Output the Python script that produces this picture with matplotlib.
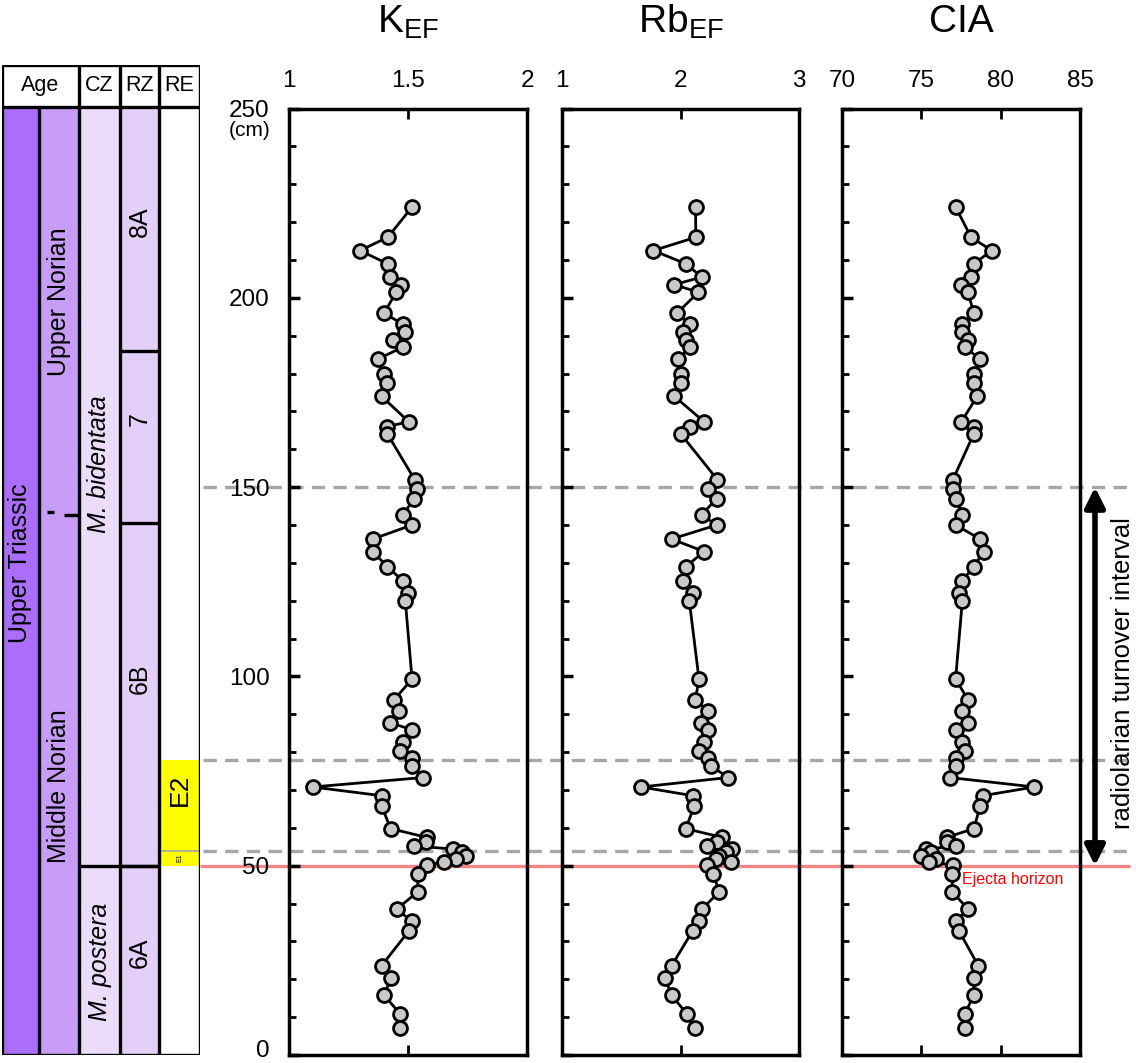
import numpy as np
import matplotlib.pyplot as plt
import matplotlib.transforms as mtransforms
from matplotlib.patches import Rectangle

plt.rcParams['font.family'] = ['Liberation Sans', 'DejaVu Sans']
plt.rcParams['mathtext.default'] = 'regular'

#%% Data (depth in cm, shared by all three curves)
depth = [224, 216, 212.5, 209, 205.5, 203.5, 201.5, 196, 193, 191, 189, 187, 183.8, 179.8,
         177.5, 174, 167.3, 166, 164.1, 152, 149.5, 147,
         142.7, 140, 136.3, 133, 129, 125.3, 122, 119.8,
         99.3, 93.8, 91, 87.8, 85.9, 82.8, 80.4, 78.4, 76.4,
         73.3, 70.8, 68.5, 65.8, 59.8,
         57.5, 56.2, 55.2, 54.4, 53.5, 52.6, 51.7, 51.0, 50.2,
         47.8, 43.1, 38.5, 35.3, 32.8, 23.6, 20.3, 15.8, 10.9, 7.1]

k_ef = [1.517, 1.415, 1.298, 1.415, 1.424, 1.469, 1.450, 1.400, 1.478, 1.487, 1.438, 1.478,
        1.373, 1.400, 1.413, 1.389, 1.503, 1.413, 1.413, 1.528, 1.536, 1.527,
        1.478, 1.517, 1.352, 1.352, 1.413, 1.478, 1.501, 1.489,
        1.517, 1.441, 1.464, 1.424, 1.517, 1.478, 1.466, 1.517, 1.517,
        1.564, 1.099, 1.389, 1.389, 1.427,
        1.578, 1.576, 1.527, 1.691, 1.726, 1.744, 1.702, 1.653, 1.578,
        1.541, 1.541, 1.452, 1.517, 1.504, 1.389, 1.427, 1.400, 1.466, 1.466]

rb_ef = [2.128, 2.128, 1.771, 2.046, 2.179, 1.948, 2.150, 1.973, 2.080, 2.018, 2.046, 2.080,
         1.976, 2.001, 2.001, 1.948, 2.198, 2.080, 2.001, 2.311, 2.229, 2.305,
         2.179, 2.305, 1.925, 2.198, 2.046, 2.018, 2.103, 2.075,
         2.156, 2.125, 2.229, 2.173, 2.235, 2.198, 2.153, 2.229, 2.255,
         2.403, 1.667, 2.103, 2.117, 2.044,
         2.350, 2.305, 2.226, 2.432, 2.380, 2.327, 2.300, 2.426, 2.226,
         2.277, 2.327, 2.179, 2.156, 2.103, 1.925, 1.869, 1.925, 2.052, 2.122]

cia = [77.16, 78.14, 79.44, 78.31, 78.14, 77.53, 77.93, 78.31, 77.58, 77.58, 77.95, 77.74,
       78.71, 78.31, 78.31, 78.52, 77.53, 78.31, 78.31, 76.99, 76.99, 77.20,
       77.58, 77.16, 78.71, 78.92, 78.31, 77.58, 77.37, 77.58,
       77.16, 77.95, 77.58, 77.95, 77.16, 77.58, 77.74, 77.16, 77.16,
       76.78, 82.13, 78.87, 78.71, 78.31,
       76.61, 76.61, 77.16, 75.31, 75.63, 75.00, 75.90, 75.48, 76.99,
       76.95, 76.95, 77.95, 77.16, 77.37, 78.59, 78.31, 78.31, 77.74, 77.74]

titles = ['K$_{EF}$', 'Rb$_{EF}$', 'CIA']
xlims = [(1, 2), (1, 3), (70, 85)]
xticks = [[1, 1.5, 2], [1, 2, 3], [70, 75, 80, 85]]
xticklabels = [['1', '1.5', '2'], ['1', '2', '3'], ['70', '75', '80', '85']]
series = [k_ef, rb_ef, cia]

# Stratigraphic column (name, bottom, top) in cm
age_col = [("Upper Triassic", 0, 250)]
norian = [("Middle Norian", 0, 142.7), ("Upper Norian", 142.7, 250)]
cz = [("M. postera", 0, 50), ("M. bidentata", 50, 250)]
rz = [("6A", 0, 50), ("6B", 50, 140.5), ("7", 140.5, 186), ("8A", 186, 250)]
re_zones = [("E1", 50, 54), ("E2", 54, 78)]
header = ["Age", "CZ", "RZ", "RE"]

dashed_levels = [150, 78, 54]
ejecta_level = 50
turnover = (50, 150)

#%% Layout (pixels)
W, H = 1136, 1063
Y_BOT, Y_TOP = 1055, 108.6
panel_x = [(289, 527), (562, 799), (842, 1080)]
col_x = [2, 39, 79, 120, 159, 200]
COL_TOP = 65
PX_CM = (Y_BOT - Y_TOP) / 250


def rect(x0, x1, ytop, ybot):
    return [x0 / W, 1 - ybot / H, (x1 - x0) / W, (ybot - ytop) / H]


fig = plt.figure(figsize=(W / 100, H / 100), dpi=100)

# overlay for horizontal markers and arrow
ov = fig.add_axes(rect(0, W, Y_TOP, Y_BOT), zorder=0)
ov.set_xlim(0, W)
ov.set_ylim(0, 250)
ov.axis('off')
ov.hlines(dashed_levels, 203, 1130, colors='#A6A6A6', linestyles=(0, (4, 2.5)), lw=2.4)
ov.hlines(ejecta_level, 200, 1130, colors='#F28585', lw=2.4)
ov.annotate('', xy=(1095, turnover[0]), xytext=(1095, turnover[1]),
            arrowprops=dict(arrowstyle='<|-|>,head_length=1.2,head_width=0.6',
                            color='black', lw=4, shrinkA=0, shrinkB=0))
ov.text(1123, np.mean(turnover) + 1, 'radiolarian turnover interval', rotation=90,
        ha='center', va='center', fontsize=18.5)
ov.text(962, 46.3, 'Ejecta horizon', color='red', fontsize=11.5, va='center')

#%% Panels
for i in range(3):
    ax = fig.add_axes(rect(panel_x[i][0], panel_x[i][1], Y_TOP, Y_BOT), zorder=2)
    ax.set_facecolor('none')
    ax.plot(series[i], depth, '-o', color='black', lw=2, ms=10, mfc='#C8C8C8',
            mec='black', mew=2, clip_on=False)
    ax.set_xlim(*xlims[i])
    ax.set_ylim(0, 250)
    for s in ax.spines.values():
        s.set_linewidth(2.5)
    ax.set_xticks(xticks[i])
    ax.set_xticklabels(xticklabels[i])
    ax.tick_params(axis='x', which='both', direction='in', top=True, bottom=True,
                   labeltop=True, labelbottom=False, length=7, width=2,
                   labelsize=17.5, pad=12)
    ax.set_yticks(np.arange(0, 251, 50))
    ax.set_yticks(np.arange(0, 251, 10), minor=True)
    ax.tick_params(axis='y', which='major', direction='in', length=8, width=2.5,
                   left=True, right=False, labelsize=17.5, pad=14)
    ax.tick_params(axis='y', which='minor', direction='in', length=5, width=2,
                   left=True, right=False)
    if i > 0:
        ax.tick_params(axis='y', labelleft=False)
    else:
        # keep the "0" label inside the canvas
        lab0 = ax.get_yticklabels()[0]
        lab0.set_transform(lab0.get_transform() +
                           mtransforms.ScaledTranslation(0, 5 / 72, fig.dpi_scale_trans))
    fig.text(sum(panel_x[i]) / 2 / W, 1 - 22 / H, titles[i], ha='center', va='center',
             fontsize=28)

fig.text(250 / W, 1 - 130 / H, '(cm)', ha='center', va='center', fontsize=15)

#%% Stratigraphic column
col_top = (Y_BOT - COL_TOP) / PX_CM
head_bot = 250.5
ca = fig.add_axes(rect(col_x[0], col_x[-1], COL_TOP, Y_BOT), zorder=1)
ca.set_xlim(col_x[0], col_x[-1])
ca.set_ylim(0, col_top)
ca.axis('off')

fills = ['#AB6EFB', '#C69CF4', '#EBDDFA', '#E4CFF8', 'white']
for j in range(5):
    ca.add_patch(Rectangle((col_x[j], 0), col_x[j + 1] - col_x[j], head_bot,
                           facecolor=fills[j], edgecolor='none'))
for name, b, t in re_zones:
    ca.add_patch(Rectangle((col_x[4], b), col_x[5] - col_x[4], t - b,
                           facecolor='#FFFF00', edgecolor='none'))
ca.hlines(54, col_x[4], col_x[5], colors='#A6A6A6', lw=1.2)

lw = 2.4
# outer frame and header
for xx in col_x:
    ymax = col_top if xx != col_x[1] else head_bot
    ca.vlines(xx, 0, ymax, colors='black', lw=lw)
ca.hlines([0, head_bot, col_top], col_x[0], col_x[-1], colors='black', lw=lw)
head_cx = [(col_x[0] + col_x[2]) / 2, (col_x[2] + col_x[3]) / 2,
           (col_x[3] + col_x[4]) / 2, (col_x[4] + col_x[5]) / 2]
for txt, cx in zip(header, head_cx):
    ca.text(cx, (head_bot + col_top) / 2, txt, ha='center', va='center', fontsize=15.5)

# zone boundaries
ca.hlines(cz[0][2], col_x[2], col_x[4], colors='black', lw=lw)
for name, b, t in rz[1:]:
    ca.hlines(b, col_x[3], col_x[4], colors='black', lw=lw)
ca.hlines(143.5, 47, 54, colors='black', lw=lw)
ca.hlines(norian[1][1], 64, col_x[2], colors='black', lw=lw)

# zone labels
ca.text((col_x[0] + col_x[1]) / 2, 130, age_col[0][0], rotation=90, ha='center',
        va='center', fontsize=18)
ca.text((col_x[1] + col_x[2]) / 2, 199, norian[1][0], rotation=90, ha='center',
        va='center', fontsize=18)
ca.text((col_x[1] + col_x[2]) / 2, 71, norian[0][0], rotation=90, ha='center',
        va='center', fontsize=18)
ca.text((col_x[2] + col_x[3]) / 2, 24.5, cz[0][0], rotation=90, ha='center',
        va='center', fontsize=18, style='italic')
ca.text((col_x[2] + col_x[3]) / 2, 156, cz[1][0], rotation=90, ha='center',
        va='center', fontsize=18, style='italic')
rz_y = [27, 99.5, 168, 220]
for (name, b, t), yy in zip(rz, rz_y):
    ca.text((col_x[3] + col_x[4]) / 2, yy, name, rotation=90, ha='center',
            va='center', fontsize=18)
ca.text((col_x[4] + col_x[5]) / 2, 70, re_zones[1][0], rotation=90, ha='center',
        va='center', fontsize=19)
ca.text((col_x[4] + col_x[5]) / 2, 52, re_zones[0][0], rotation=90, ha='center',
        va='center', fontsize=5)

fig.savefig('out.png', dpi=100)
